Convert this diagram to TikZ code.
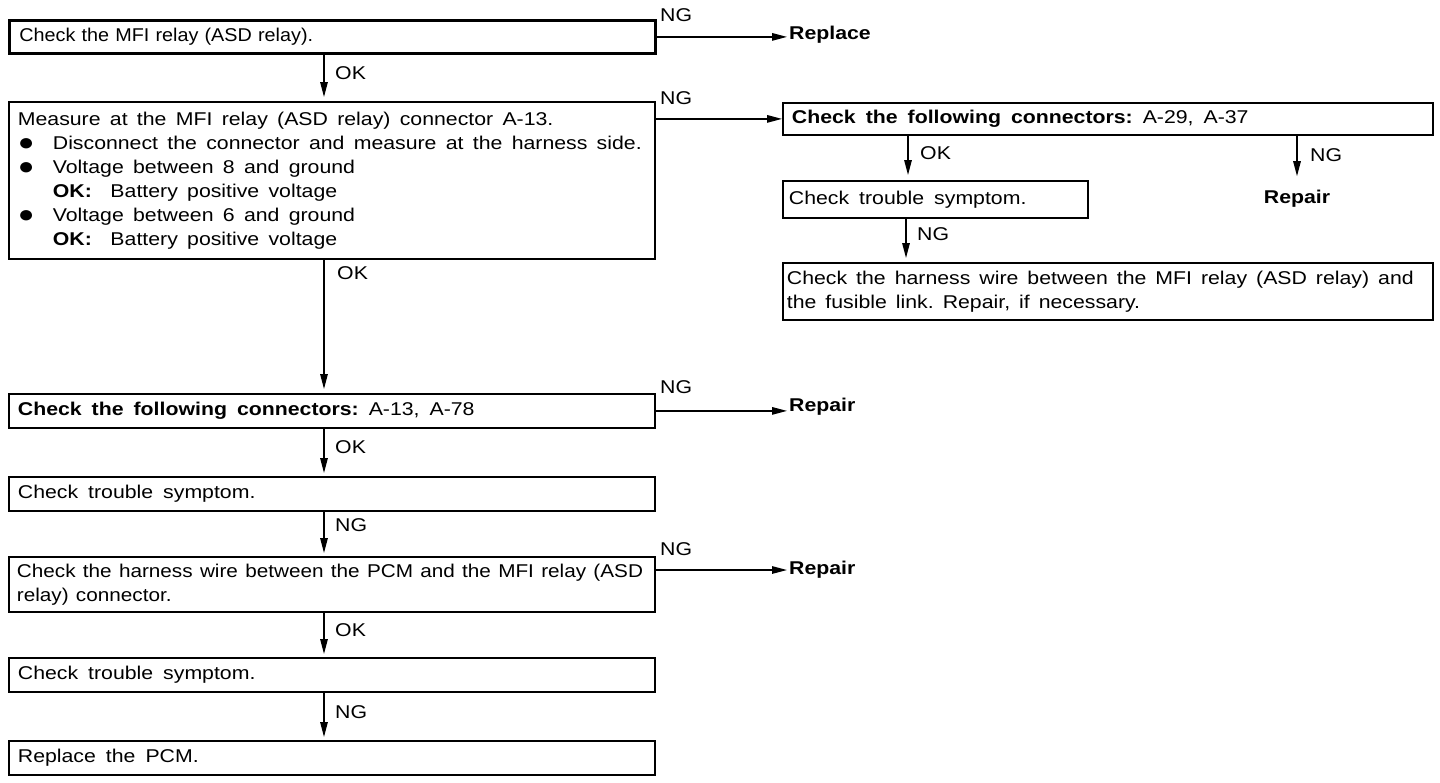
\documentclass[tikz,border=0pt]{standalone}
\usepackage{fontspec}
\setmainfont{Liberation Sans}[FakeStretch=1.15]
\newfontfamily\fa{Liberation Sans}[FakeStretch=1.07]
\newfontfamily\fb{Liberation Sans}[FakeStretch=1.12]
\usetikzlibrary{arrows.meta}
\newcommand\fsz{\fontsize{18.5}{24}\selectfont}
\newcommand\wsp[1]{\spaceskip=#1pt\relax\xspaceskip=#1pt\relax}
\newcommand\bul{\makebox[35pt][l]{\hspace*{0pt}\raisebox{-1pt}{\fontsize{24}{24}\selectfont ●}}}
\newcommand\ind{\hspace*{35pt}}
\begin{document}
\begin{tikzpicture}[x=1pt,y=-1pt,
  bx/.style={draw, line width=1.8pt, anchor=north west, inner xsep=9pt, inner ysep=0pt, align=left, font=\fsz},
  lbl/.style={inner sep=0pt, anchor=west, font=\fsz},
  res/.style={inner sep=0pt, anchor=west, font=\fsz\bfseries},
  arr/.style={line width=1.4pt, -{Triangle[length=15pt,width=7.5pt]}},
  ln/.style={line width=1.4pt}
]
\useasboundingbox (0,0) rectangle (1440,782);
\fill[white] (0,0) rectangle (1440,782);

% boxes
\node[bx, line width=2.8pt, minimum width=646, minimum height=33, text width=626, inner xsep=10pt] (b1) at (8,19) {\fa Check the MFI relay (ASD relay).};
\node[bx, minimum width=646, minimum height=157, text width=634, inner xsep=6pt] (b2) at (8,101) {\wsp{9.3}\hspace*{3pt}Measure at the MFI relay (ASD relay) connector A-13.\\
\hspace*{3pt}\bul Disconnect the connector and measure at the harness side.\\
\hspace*{3pt}\bul Voltage between 8 and ground\\
\hspace*{3pt}\ind\textbf{OK:}\ \ Battery positive voltage\\
\hspace*{3pt}\bul Voltage between 6 and ground\\
\hspace*{3pt}\ind\textbf{OK:}\ \ Battery positive voltage};
\node[bx, minimum width=650, minimum height=32, text width=632] (b3) at (782,102) {\wsp{10}\textbf{Check the following connectors:} A-29, A-37};
\node[bx, minimum width=305, minimum height=37, text width=293, inner xsep=6pt] (b4) at (782,180) {\wsp{10}Check trouble symptom.};
\node[bx, minimum width=650, minimum height=57, text width=642, inner xsep=4pt] (b5) at (782,262) {\wsp{9}Check the harness wire between the MFI relay (ASD relay) and\\the fusible link. Repair, if necessary.};
\node[bx, minimum width=646, minimum height=34, text width=628] (b6) at (8,393) {\wsp{10}\textbf{Check the following connectors:} A-13, A-78};
\node[bx, minimum width=646, minimum height=34, text width=628] (b7) at (8,476) {\wsp{10}Check trouble symptom.};
\node[bx, minimum width=646, minimum height=55, text width=630, inner xsep=8pt] (b8) at (8,556) {\fb\wsp{7.3}Check the harness wire between the PCM and the MFI relay (ASD\\relay) connector.};
\node[bx, minimum width=646, minimum height=34, text width=628] (b9) at (8,657) {\wsp{10}Check trouble symptom.};
\node[bx, minimum width=646, minimum height=34, text width=628] (b10) at (8,740) {\wsp{10}Replace the PCM.};

% result texts
\node[res] (r1) at (789,35) {Replace};
\node[res] (r6) at (789,407) {Repair};
\node[res] (r8) at (789,570) {Repair};
\node[res, anchor=center] (r3) at (1297,199) {Repair};

% coordinates for vertical connectors
\coordinate (cl) at (324,0);
\coordinate (cm) at (908,0);
\coordinate (cn) at (906,0);

% horizontal connectors
\draw[arr, shorten >=2pt] (b1.east) -- (b1.east -| r1.west);
\draw[arr] (b3.west -| b2.east) -- (b3.west);
\draw[arr, shorten >=2pt] (b6.east) -- (b6.east -| r6.west);
\draw[arr, shorten >=2pt] (b8.east |- 0,570) -- (r8.west |- 0,570);

% vertical connectors
\draw[arr, shorten >=4pt] (b1.south -| cl) -- (b2.north -| cl);
\draw[arr, shorten >=4pt] (b2.south -| cl) -- (b6.north -| cl);
\draw[arr, shorten >=3pt] (b6.south -| cl) -- (b7.north -| cl);
\draw[arr, shorten >=3pt] (b7.south -| cl) -- (b8.north -| cl);
\draw[arr, shorten >=3pt] (b8.south -| cl) -- (b9.north -| cl);
\draw[arr, shorten >=3pt] (b9.south -| cl) -- (b10.north -| cl);
\draw[arr, shorten >=5pt] (b3.south -| cm) -- (b4.north -| cm);
\draw[arr, shorten >=4pt] (b4.south -| cn) -- (b5.north -| cn);
\draw[arr, shorten >=14pt] (b3.south -| r3) -- (r3.north);

% labels
\node[lbl] (n1) at (660,15) {NG};
\node[lbl] (n2) at (660,98) {NG};
\node[lbl] (n6) at (660,387) {NG};
\node[lbl] (n8) at (660,549) {NG};
\node[lbl] (o1) at (335,73) {OK};
\node[lbl] (o2) at (337,273) {OK};
\node[lbl] (o6) at (335,447) {OK};
\node[lbl] (g7) at (335,525) {NG};
\node[lbl] (o8) at (335,630) {OK};
\node[lbl] (g9) at (335,712) {NG};
\node[lbl] (o3) at (920,153) {OK};
\node[lbl] (g3) at (1310,155) {NG};
\node[lbl] (g4) at (917,234) {NG};
\end{tikzpicture}
\end{document}
